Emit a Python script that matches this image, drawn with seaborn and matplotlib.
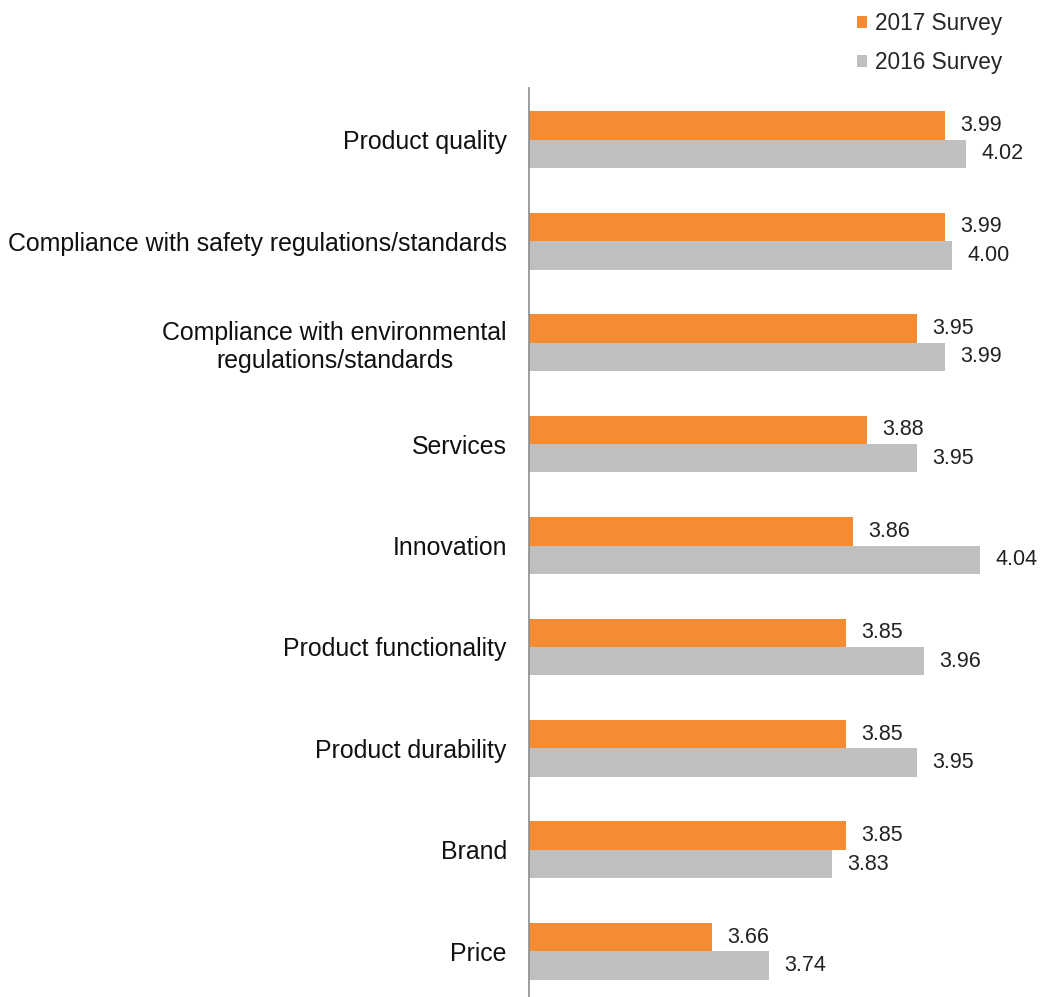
import matplotlib.pyplot as plt
import pandas as pd
import seaborn as sns
from matplotlib.patches import Patch

categories = [
    "Product quality",
    "Compliance with safety regulations/standards",
    "Compliance with environmental\nregulations/standards",
    "Services",
    "Innovation",
    "Product functionality",
    "Product durability",
    "Brand",
    "Price",
]
survey_2017 = [3.99, 3.99, 3.95, 3.88, 3.86, 3.85, 3.85, 3.85, 3.66]
survey_2016 = [4.02, 4.00, 3.99, 3.95, 4.04, 3.96, 3.95, 3.83, 3.74]
series_names = ["2017 Survey", "2016 Survey"]
colors = ["#F58B32", "#BFBFBF"]

sns.set_theme(style="white")
plt.rcParams["font.family"] = ["Liberation Sans", "DejaVu Sans"]

frame = pd.DataFrame(
    {
        "category": categories * 2,
        "value": survey_2017 + survey_2016,
        "survey": [series_names[0]] * len(categories) + [series_names[1]] * len(categories),
    }
)

fig = plt.figure(figsize=(10.4, 9.97), dpi=100)
ax = fig.add_axes([529 / 1040, 0.0, 1 - 529 / 1040, (997 - 88) / 997])

sns.barplot(
    data=frame,
    x="value",
    y="category",
    hue="survey",
    hue_order=series_names,
    order=categories,
    palette=colors,
    saturation=1,
    width=0.56,
    linewidth=0,
    orient="h",
    ax=ax,
    legend=False,
)

for container in ax.containers:
    ax.bar_label(container, fmt="%.2f", padding=11, fontsize=15.5, color="#222222")

ax.set_xlim(3.4, 4.125)
ax.set_ylim(8.45, -0.51)
ax.set_xlabel("")
ax.set_ylabel("")
ax.set_xticks([])
ax.tick_params(axis="y", length=0, pad=16, labelsize=17.9, labelcolor="#111111")
for label in ax.get_yticklabels():
    label.set_multialignment("center")
    label.set_linespacing(1.2)

for side in ["top", "right", "bottom"]:
    ax.spines[side].set_visible(False)
ax.spines["left"].set_color("#8C8C8C")
ax.spines["left"].set_linewidth(1.2)

handles = [Patch(facecolor=c, edgecolor="none") for c in colors]
fig.legend(
    handles,
    series_names,
    loc="upper right",
    bbox_to_anchor=(1023 / 1040, 1.008),
    frameon=False,
    fontsize=16.3,
    handlelength=0.45,
    handleheight=0.45,
    handletextpad=0.35,
    labelspacing=0.68,
)

fig.savefig("out.png", dpi=100)
